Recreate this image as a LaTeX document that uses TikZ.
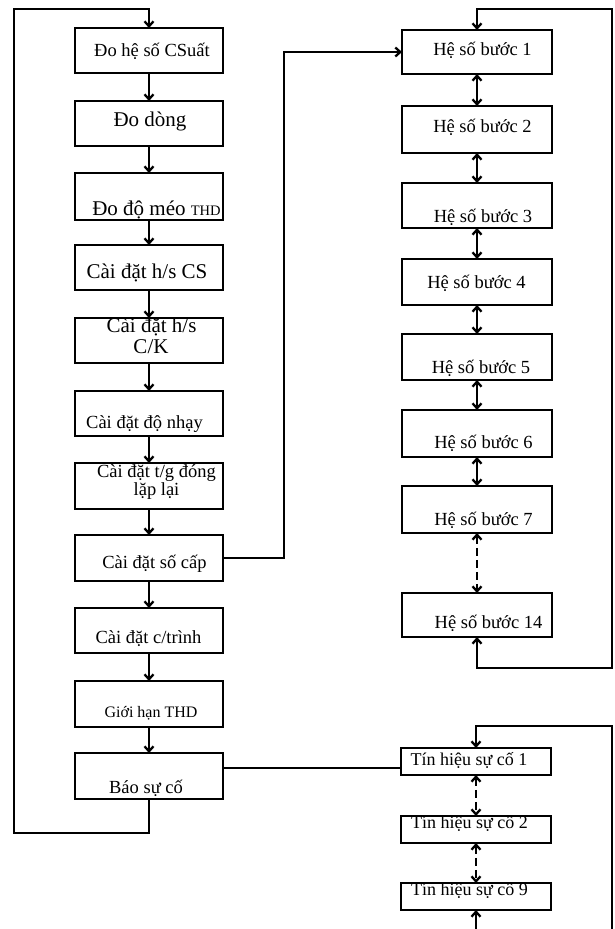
\documentclass[tikz,border=0pt]{standalone}
\usepackage{fontspec}
\setmainfont{Liberation Serif}
\usetikzlibrary{arrows.meta}
\newcommand\cliptext[2]{\begin{scope}\clip (#1.south west) rectangle (#1.north east); #2 \end{scope}}
\begin{document}
\begin{tikzpicture}[x=1pt,y=-1pt,
  box/.style={draw,line width=2.4pt,inner sep=0pt,outer sep=0pt},
  lbox/.style={box,minimum width=148pt},
  hbox/.style={box,minimum width=150pt},
  tbox/.style={box,minimum width=150pt,minimum height=27pt},
  lbl/.style={anchor=base,inner sep=0pt,font=\fontsize{18.5}{20}\selectfont},
  big/.style={font=\fontsize{21}{23}\selectfont},
  conn/.style={line width=2.3pt},
  arr/.style={conn,-{Straight Barb[length=5pt,width=9pt]}},
  darr/.style={conn,{Straight Barb[length=5pt,width=9pt]}-{Straight Barb[length=5pt,width=9pt]}},
  dsh/.style={darr,dash pattern=on 8pt off 4pt}]
\useasboundingbox (0,0) rectangle (614,929);
\clip (0,0) rectangle (614,929);
% left column
\node[lbox,minimum height=45pt] (L1) at (149,50.5) {};
\node[lbox,minimum height=45pt] (L2) at (149,123.5) {};
\node[lbox,minimum height=47pt] (L3) at (149,196.5) {};
\node[lbox,minimum height=45pt] (L4) at (149,267.5) {};
\node[lbox,minimum height=45pt] (L5) at (149,340.5) {};
\node[lbox,minimum height=45pt] (L6) at (149,413.5) {};
\node[lbox,minimum height=46pt] (L7) at (149,486) {};
\node[lbox,minimum height=46pt] (L8) at (149,558) {};
\node[lbox,minimum height=45pt] (L9) at (149,630.5) {};
\node[lbox,minimum height=46pt] (L10) at (149,704) {};
\node[lbox,minimum height=46pt] (L11) at (149,776) {};
\cliptext{L1}{\node[lbl] (t1) at (152,56) {Đo hệ số CSuất};}
\cliptext{L2}{\node[lbl,big] (t2) at (150,126) {Đo dòng};}
\cliptext{L3}{\node[lbl,big] (t3) at (156.5,215) {Đo độ méo \fontsize{14.5}{16}\selectfont THD};}
\cliptext{L4}{\node[lbl,big] (t4) at (147,278) {Cài đặt h/s CS};}
\cliptext{L5}{\node[lbl,big] (t5a) at (151.5,332) {Cài đặt h/s};
  \node[lbl,big] (t5b) at (151,353) {C/K};}
\cliptext{L6}{\node[lbl] (t6) at (144.5,428) {Cài đặt độ nhạy};}
\cliptext{L7}{\node[lbl] (t7a) at (156.5,477) {Cài đặt t/g đóng};
  \node[lbl] (t7b) at (156.5,495) {lặp lại};}
\cliptext{L8}{\node[lbl] (t8) at (154.5,568) {Cài đặt số cấp};}
\cliptext{L9}{\node[lbl] (t9) at (148.5,643) {Cài đặt c/trình};}
\cliptext{L10}{\node[lbl,font=\fontsize{16}{18}\selectfont] (t10) at (151,717) {Giới hạn THD};}
\cliptext{L11}{\node[lbl] (t11) at (146,793) {Báo sự cố};}
% right column: he so buoc
\node[hbox,minimum height=44pt] (H1) at (477,52) {};
\node[hbox,minimum height=47pt] (H2) at (477,129.5) {};
\node[hbox,minimum height=45pt] (H3) at (477,205.5) {};
\node[hbox,minimum height=46pt] (H4) at (477,282) {};
\node[hbox,minimum height=46pt] (H5) at (477,357) {};
\node[hbox,minimum height=47pt] (H6) at (477,433.5) {};
\node[hbox,minimum height=47pt] (H7) at (477,509.5) {};
\node[hbox,minimum height=44pt] (H14) at (477,615) {};
\node[lbl] (s1) at (482.5,55) {Hệ số bước 1};
\node[lbl] (s2) at (482.5,132) {Hệ số bước 2};
\node[lbl] (s3) at (483,222) {Hệ số bước 3};
\node[lbl] (s4) at (476.5,288) {Hệ số bước 4};
\node[lbl] (s5) at (481,373) {Hệ số bước 5};
\node[lbl] (s6) at (483.5,448) {Hệ số bước 6};
\node[lbl] (s7) at (483.5,525) {Hệ số bước 7};
\node[lbl] (s14) at (488.5,628) {Hệ số bước 14};
% tin hieu su co
\node[tbox] (T1) at (476,761.5) {};
\node[tbox] (T2) at (476,829.5) {};
\node[tbox] (T9) at (476,896.5) {};
\cliptext{T1}{\node[lbl,font=\fontsize{18}{20}\selectfont] (u1) at (469,765) {Tín hiệu sự cố 1};}
\cliptext{T2}{\node[lbl,font=\fontsize{18}{20}\selectfont] (u2) at (469.5,828) {Tín hiệu sự cố 2};}
\cliptext{T9}{\node[lbl,font=\fontsize{18}{20}\selectfont] (u9) at (469.5,895) {Tín hiệu sự cố 9};}
% left connectors
\foreach \a/\b in {L1/L2,L2/L3,L3/L4,L4/L5,L5/L6,L6/L7,L7/L8,L8/L9,L9/L10,L10/L11}
  \draw[arr] (\a.south) -- (\b.north);
\coordinate (lbot) at (14,833);
\coordinate (ltop) at (14,9);
\draw[arr] (L11.south) |- (lbot) -- (ltop) -| (L1.north);
\coordinate (j1) at (284,558);
\draw[arr] (L8.east) -- (j1) |- (H1.west);
% right connectors
\foreach \a/\b in {H1/H2,H2/H3,H3/H4,H4/H5,H5/H6,H6/H7}
  \draw[darr] (\a.south) -- (\b.north);
\draw[dsh] (H7.south) -- (H14.north);
\coordinate (hr1) at (612,9);
\coordinate (hr2) at (612,668);
\draw[darr] (H1.north) |- (hr1) -- (hr2) -| (H14.south);
% fault signals
\draw[conn] ([yshift=8pt]L11.east) -- ([yshift=-6.5pt]T1.west);
\draw[dsh] (T1.south) -- (T2.north);
\draw[dsh] (T2.south) -- (T9.north);
\coordinate (tr1) at (612,726);
\coordinate (tr2) at (612,960);
\draw[darr] (T1.north) |- (tr1) -- (tr2) -| (T9.south);
\end{tikzpicture}
\end{document}
